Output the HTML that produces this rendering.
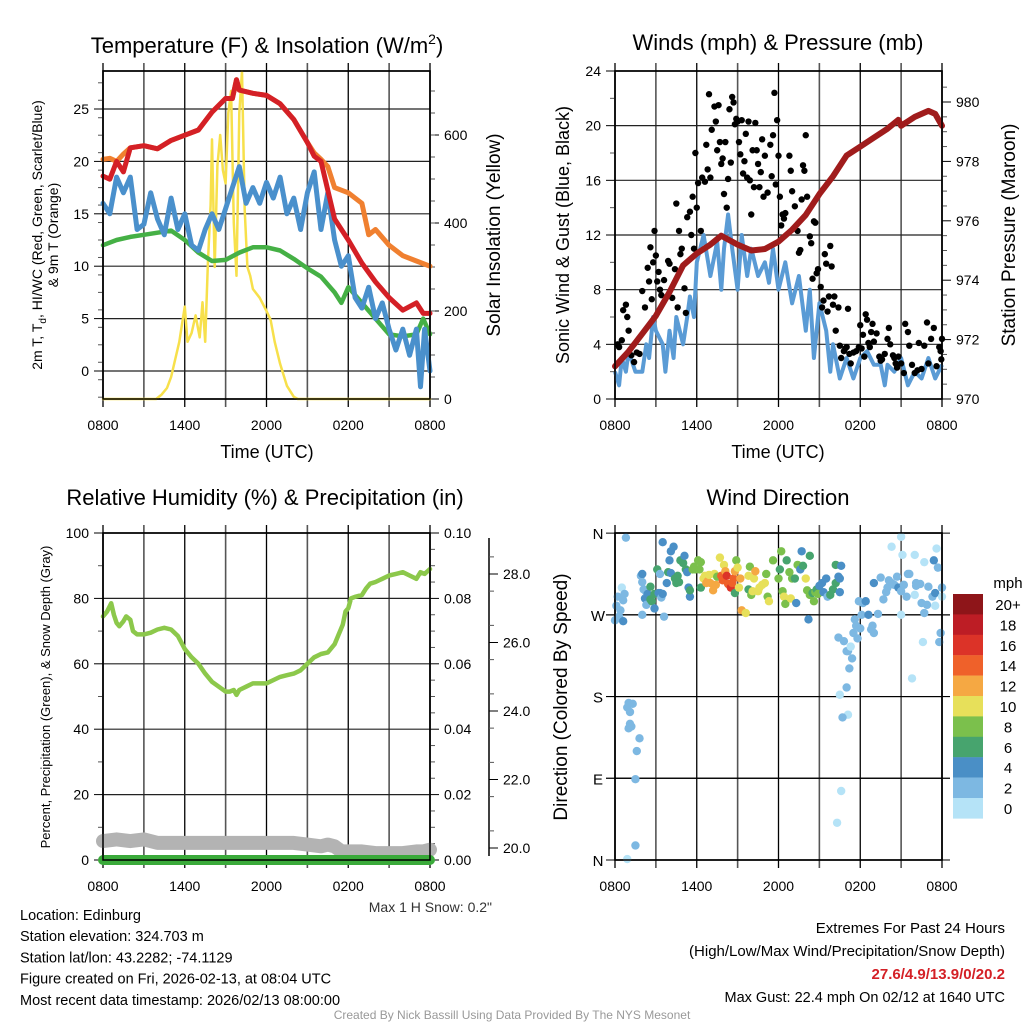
<!DOCTYPE html>
<html><head><meta charset="utf-8"><style>
html,body{margin:0;padding:0;background:#fff;}
svg{display:block;font-family:"Liberation Sans",sans-serif;}
</style></head><body>
<svg id="fig" width="1024" height="1024" viewBox="0 0 1024 1024" xmlns="http://www.w3.org/2000/svg"></svg>
<script>
// ---------- DATA ----------
const tempHours=[0,0.5,1,1.5,2,3,4,5,6,7,8,9,9.5,9.8,10,11,12,13,14,15,15.5,16,17,18,19,20,21,22,23,23.5,24];
const tempValues=[18.6,18.3,20,19,21.3,21.5,21.2,22,22.5,23,24.7,26,26,27.8,26.8,26.5,26.3,25.5,24,21.8,20.5,20,14.5,12.5,10.3,8.5,7,5.8,6.5,5.5,5.5];
const t9Hours=[0,0.5,1,1.5,2,3,4,5,6,7,8,9,9.5,9.8,10,11,12,13,14,15,15.5,16,16.5,17,18,19,19.5,20,21,22,23,24];
const t9Values=[20.2,20.3,20,20.7,21.3,21.5,21.2,22,22.5,23,24.7,26,26,27.8,26.8,26.5,26.3,25.5,24,21.8,20.8,20.2,19.5,17.5,17,16,13,13.5,12,11,10.5,10];
const tdHours=[0,1,2,3,4,5,6,7,8,9,10,11,12,13,14,15,16,17,17.5,18,19,20,21,22,23,23.5,24];
const tdValues=[12,12.5,12.8,13,13.2,13.4,12.5,11.3,10.5,10.6,11.3,11.8,11.8,11.5,10.7,9.8,9,7.5,6.5,8,6.5,5,3.5,3.3,3.5,5,3.5];
const hiHours=[0,0.5,1,1.5,2,2.5,3,3.5,4,4.5,5,5.5,6,6.5,7,7.5,8,8.5,9,9.5,10,10.5,11,11.5,12,12.5,13,13.5,14,14.5,15,15.5,16,16.5,17,17.5,18,18.5,19,19.5,20,20.5,21,21.5,22,22.5,23,23.3,23.6,24];
const hiValues=[16,15,18.5,17,18.5,13.5,14,17,14.5,13,16.5,13.5,15,12,11.5,13.5,15,13.5,15.5,17.5,19.5,16,17.5,16,18,16.5,18.5,15,16.5,13.5,17,19,13.5,17,12.5,10,11,7,6,8,5,6.5,4,2,4,1.5,4,-1.5,4,0];
const solarHours=[0,3.9,4.3,4.7,5,5.3,5.6,5.8,6,6.2,6.5,6.8,7.1,7.3,7.5,7.7,7.9,8,8.2,8.4,8.6,8.8,9,9.2,9.4,9.6,9.8,10,10.2,10.4,10.6,10.8,11,11.5,12,12.3,12.6,13,13.5,14,14.3,24];
const solarValues=[0,0,10,25,50,90,130,170,210,130,150,190,140,220,130,310,440,590,300,530,600,520,490,650,700,400,280,650,745,430,300,280,250,230,200,180,130,80,30,5,0,0];
const presHours=[0,1,2,3,4,5,6,7,7.8,9,10,11,12,13,14,15,16,17,18,19,20,20.8,21,22,23,23.5,24];
const presValues=[971.1,971.6,972.2,972.8,973.6,974.5,974.9,975.2,975.5,975.2,975,975.05,975.3,975.7,976.2,976.9,977.5,978.2,978.5,978.8,979.1,979.4,979.2,979.5,979.7,979.6,979.2];
const windHours=[0,0.3,0.5,0.8,1,1.5,2,2.3,2.5,2.8,3,3.5,3.7,4,4.3,4.5,5,5.3,5.5,5.8,6,6.5,7,7.5,7.8,8,8.3,8.6,9,9.3,9.7,10,10.5,11,11.3,11.6,12,12.5,13,13.5,14,14.3,14.6,15,15.5,15.8,16,16.5,17,17.5,18,18.5,19,19.5,19.8,20,20.5,21,21.5,22,22.5,23,23.5,24];
const windValues=[2,1,3,2,3.5,2,2,4,3,6,5,4,2,5,3,6,4,6,7.5,6,10,12,9,11.5,8,11,13.5,11,8,12,9,11,9,10,8.5,11,8,10,7,9,5,8,3,7,5,2,4,1.5,3,1.5,3,3.5,2.5,2.5,1,2.5,2,3,1,2,1.5,3,1.5,2.5];
const gustHours=[0.2,0.3,0.5,0.6,0.8,0.9,1,1.2,1.4,1.6,1.8,2,2.2,2.4,2.5,2.6,2.7,2.8,2.9,3,3.1,3.2,3.3,3.4,3.6,3.9,4,4.2,4.4,4.5,4.6,4.7,4.8,4.9,5.1,5.2,5.3,5.5,5.6,5.7,5.8,5.9,6,6.1,6.3,6.4,6.6,6.7,6.8,6.9,7,7.1,7.3,7.4,7.5,7.6,7.7,7.8,7.9,8,8.1,8.2,8.3,8.4,8.5,8.6,8.7,8.8,8.9,9,9.1,9.2,9.3,9.4,9.5,9.6,9.7,9.8,9.9,10,10.1,10.2,10.3,10.4,10.5,10.6,10.7,10.8,10.9,11,11.2,11.4,11.5,11.6,11.7,11.8,11.9,12,12.1,12.2,12.3,12.4,12.5,12.8,12.9,13,13.2,13.4,13.5,13.6,13.7,13.8,13.9,14,14.1,14.3,14.4,14.5,14.6,14.7,14.8,14.9,15.1,15.2,15.3,15.4,15.5,15.6,15.7,15.8,15.9,16,16.1,16.2,16.4,16.5,16.6,16.8,16.9,17,17.1,17.2,17.3,17.5,17.7,17.9,18,18.1,18.2,18.3,18.4,18.5,18.6,18.7,18.8,18.9,19,19.2,19.4,19.5,19.6,19.8,20,20.1,20.2,20.4,20.5,20.6,20.7,20.8,21,21.2,21.3,21.5,21.6,21.8,22,22.2,22.3,22.5,22.7,22.9,23,23.2,23.4,23.6,23.8,23.9,23.95,24];
const gustValues=[4,3.8,4.3,6.5,6.9,6,5,3.2,2.7,3.4,3.3,7.9,6.7,9.6,8.6,11.1,7.3,10,12.3,10.5,8.6,9.3,8,7.6,8.7,10.1,9.9,7.4,9.5,14.3,6.7,12.3,10.6,11,8.1,6.3,13.3,13.7,12,14.8,11,18,14,15.8,12.3,16.2,15.9,18.6,16.8,22.3,16.2,19.7,21.4,20.3,18.2,21.5,18.8,17.2,17.6,15,18.8,14,16.1,21.2,17.3,22.1,21.7,20.1,20.5,20.3,18.8,17.9,20.4,16.5,17.4,19.4,16.2,20.3,16,13.5,18.2,15.5,20.2,18.2,17.2,15.5,16.6,19,14.8,17.8,15.1,18.6,16.3,19.3,22.4,15.7,20.4,17.8,14.8,12.7,13.5,13.2,13.6,17.8,16.7,15.2,14.1,12.3,10.7,10.9,14.6,17.1,16.7,19.3,14.8,11.9,11.4,8.8,13,12.9,9.2,9.5,8.2,6.7,7.2,10.6,9.9,6.4,7.5,11.2,9.7,6.9,7.5,5,6.7,3.9,3,3.5,3.7,3.8,6.6,3.3,2.6,3.4,3.5,3.8,5.4,3.7,4.7,3.1,6.2,5.8,4.1,3.8,4.9,5.5,4.2,4.8,3.1,2.8,2.9,3.3,4.4,5.2,4,3.2,3,2.6,2.3,3.1,2.6,1.9,5.5,4.9,3.9,2.5,1.9,2.1,4.1,2.2,3.9,5.6,2.6,4.4,5.2,2.4,3.8,3.5,2.9,4.4];
const rhHours=[0,0.3,0.6,0.8,1,1.2,1.5,1.7,2,2.2,2.5,3,3.5,4,4.5,5,5.5,6,6.5,7,7.5,8,8.5,9,9.3,9.6,9.8,10,10.5,11,11.5,12,12.5,13,13.5,14,14.5,15,15.5,16,16.5,17,17.3,17.6,17.8,18,18.2,18.5,19,19.3,19.6,20,20.5,21,21.5,22,22.5,23,23.3,23.6,24];
const rhValues=[74.5,76,78.5,75,72.5,71.5,73,74.5,73.5,70,69,69,69.5,70.5,71,70.5,68.5,64.5,62,60,57,54.5,53,51.5,51.5,52,50.5,52,53,54,54,54,55,56,56.5,57,58,60,62,63,63.5,66,69,72,76,77,80,80.5,81,83,84.5,85,86,87,87.5,88,87,86,88,87.5,89];
const snowHours=[0,1,2,3,4,6,8,10,12,14,15,16,16.5,17,17.5,18,19,20,21,22,23,23.5,24];
const snowValues=[20.2,20.25,20.2,20.25,20.15,20.15,20.15,20.15,20.15,20.15,20.1,20.05,20.1,20.05,19.9,19.9,19.9,19.85,19.85,19.85,19.9,19.9,19.95];
const precipHours=[0,24];
const precipValues=[0,0];
const dirHours=[0,0.1,0.2,0.3,0.4,0.5,0.6,0.6,0.7,0.8,0.9,1.0,1.1,1.0,1.1,1.3,1.2,1.6,1.8,1.5,1.5,0.9,1.9,2,2.1,2.2,2.0,2.3,2.4,2.3,2.0,2.6,2.6,2.7,2.9,2.9,3.1,3.2,3.3,3.4,3.5,3.6,3.3,3.5,3.8,3.9,4.0,4.1,4.3,4.1,4.4,4.5,4.6,4.7,4.8,5.0,5.1,5.2,5.3,5.4,5.5,5.5,5.7,5.8,5.9,6.1,6.2,6.3,6.3,6.5,6.6,6.7,6.8,6.9,7.0,7.2,7.3,7.4,7.5,7.7,7.8,7.9,8.0,8.1,8.2,8.3,8.5,8.6,8.7,8.8,8.8,8.9,9.0,9.1,9.2,9.3,9.6,9.8,9.8,9.9,10.0,10.1,10.2,10.3,10.5,10.6,10.8,11.0,11.1,11.2,11.3,11.6,12.2,12.0,12.1,12.3,12.4,12.5,12.6,12.8,12.9,13.0,13.2,13.3,13.4,13.6,13.7,13.8,14.0,14.3,14.1,14.3,14.5,14.6,14.7,14.8,14.9,14.2,15.2,15.5,15.3,15.0,15.6,15.8,16.0,16.2,16.4,16.5,16.5,16.2,16.6,16.4,16.8,17.0,17.1,17.2,17.0,17.1,17.3,17.4,17.5,17.6,17.7,17.8,17.9,18.0,18.1,18.2,18.4,18.6,18.9,19.0,18.8,19.3,19.0,19.5,19.7,19.9,20.0,20.1,20.3,20.5,20.7,20.8,21.0,21.2,21.4,21.5,21.6,21.8,22.0,22.1,22.4,22.5,22.7,22.9,23.0,23.3,23.5,23.7,23.4,23.6,24.0,24.0,23.9,23.8,23.5,22.6,22.1,21.0,20.3,21.0,21.1,22.0,22.7,16.6,16.3,16.5,16.7];
const dirValues=[264,280,290,268,275,300,286,263,293,355,168,173,163,145,150,172,147,120,134,89,16,1,313,315,298,288,306,295,293,281,270,287,301,285,277,293,320,294,294,289,293,268,315,350,305,317,330,340,345,316,310,305,313,306,330,327,335,320,317,300,290,297,320,323,320,330,320,300,328,310,313,305,307,314,305,297,315,303,312,333,313,308,325,318,313,304,300,305,310,294,318,330,322,300,310,275,272,298,313,323,292,296,310,318,296,300,303,305,315,290,285,330,340,310,320,296,290,282,330,317,288,310,310,283,325,320,340,324,310,335,297,292,294,285,295,298,293,265,305,310,295,302,290,292,298,305,312,310,295,325,324,245,241,230,230,211,190,160,235,222,250,265,258,244,285,255,270,283,285,270,258,250,254,271,305,311,287,295,300,308,305,303,312,300,296,303,290,315,315,200,292,305,304,283,272,281,301,290,294,322,330,343,290,300,250,240,280,240,302,270,345,356,336,336,328,76,41,182,157];
const dirSpeeds=[2,2,2,2,3,0.5,2,4,3,2,2,2,3,2,2,3,2,2,2,2,2,1,3,4,3,4,2,3,4,2,2,6,6,6,4,6,6,4,4,2,4,2,3,4,4,6,4,4,4,4,6,6,6,6,6,6,4,6,4,4,4,6,8,8,8,8,8,6,8,10,10,12,12,10,12,12,10,12,8,10,14,14,10,12,16,14,16,14,14,6,12,8,10,10,12,12,10,6,10,8,8,10,10,12,10,10,10,10,8,8,10,8,8,8,6,8,10,8,6,8,10,8,6,4,8,4,4,6,10,6,8,8,6,8,8,6,8,4,4,4,4,4,2,6,6,6,4,4,4,6,4,3,3,2,3,2,2,1,1,2,2,2,3,3,2,3,3,3,4,4,3,2,3,3,4,2,2,2,2,2,2,2,2,4,3,3,2,3,2,1,1,2,3,2,3,3,3,2,4,3,4,1,1,2,3,2,1,1,3,1,1,0.5,0.5,0.5,1,1,1,1,3,1];
const legendLabels=["20+","18","16","14","12","10","8","6","4","2","0"];
const speedColors=["#b5e3f7","#7db8e2","#4a8fc6","#47a46e","#7bc04c","#e7e05a","#f5a843","#ef612a","#dc3328","#bd1d25","#8e1519"];
const timeLabels=["0800","1400","2000","0200","0800"];

// ---------- HELPERS ----------
const NS="http://www.w3.org/2000/svg";
const svg=document.getElementById('fig');
function mk(tag,attrs,parent){const e=document.createElementNS(NS,tag);for(const k in attrs)e.setAttribute(k,attrs[k]);(parent||svg).appendChild(e);return e;}
function txt(s,x,y,size,anchor,parent,extra){const e=mk('text',Object.assign({x:x,y:y,'font-size':size,'text-anchor':anchor||'middle',fill:'#000'},extra||{}),parent);e.textContent=s;return e;}
function pathD(xs,ys,sx,sy){let d='';for(let i=0;i<xs.length;i++){d+=(i?'L':'M')+sx(xs[i]).toFixed(1)+' '+sy(ys[i]).toFixed(1);}return d;}
function grp(name){const g=mk('g',{});return g;}

function panelFrame(x0,x1,y0,y1,hLines,g){
  for(let i=0;i<=8;i++){const x=x0+i*(x1-x0)/8;
    mk('line',{x1:x,y1:y0-8,x2:x,y2:y1+8,stroke:(i%2===0?'#000':'#555'),'stroke-width':(i%2===0?1.3:1.6)},g);}
  hLines.forEach(y=>mk('line',{x1:x0,y1:y,x2:x1,y2:y,stroke:'#222','stroke-width':1.2},g));
  mk('rect',{x:x0,y:y0,width:x1-x0,height:y1-y0,fill:'none',stroke:'#000','stroke-width':1.5},g);
  for(let i=0;i<5;i++){const l=txt(timeLabels[i],x0+i*(x1-x0)/4,y1+31,14,'middle',g);}
}
function leftTicks(x,vals,sy,minor,g,fmt){
  vals.forEach(v=>{mk('line',{x1:x-9,y1:sy(v),x2:x,y2:sy(v),stroke:'#000','stroke-width':1},g);
    const l=txt(fmt?fmt(v):String(v),x-14,sy(v)+5,14,'end',g);});
  minor.forEach(v=>mk('line',{x1:x-5,y1:sy(v),x2:x,y2:sy(v),stroke:'#555','stroke-width':1},g));
}
function rightTicks(x,vals,sy,minor,g,fmt){
  vals.forEach(v=>{mk('line',{x1:x,y1:sy(v),x2:x+9,y2:sy(v),stroke:'#000','stroke-width':1},g);
    const l=txt(fmt?fmt(v):String(v),x+14,sy(v)+5,14,'start',g);});
  minor.forEach(v=>mk('line',{x1:x,y1:sy(v),x2:x+5,y2:sy(v),stroke:'#555','stroke-width':1},g));
}
function rng(a,b,s){const r=[];for(let v=a;v<=b+1e-9;v+=s)r.push(+v.toFixed(4));return r;}

// ---------- PANEL 1: Temperature ----------
(function(){
  const g=grp('temperature-panel');
  const X0=103,X1=430,Y0=71,Y1=399;
  const sx=h=>X0+h*(X1-X0)/24;
  const sy=v=>371-v*10.48;
  const sr=w=>399-w*0.44;
  const t=txt('',267,53,22,'middle',g);
  t.appendChild(document.createTextNode('Temperature (F) & Insolation (W/m'));
  const sp=document.createElementNS(NS,'tspan');sp.setAttribute('dy','-9');sp.setAttribute('font-size','14');sp.textContent='2';t.appendChild(sp);
  const sp2=document.createElementNS(NS,'tspan');sp2.setAttribute('dy','9');sp2.textContent=')';t.appendChild(sp2);
  panelFrame(X0,X1,Y0,Y1,[0,5,10,15,20,25].map(sy),g);
  leftTicks(X0,[0,5,10,15,20,25],sy,rng(-2.5,27.5,5/3).filter(v=>v>-2.7&&v<28.6),g);
  rightTicks(X1,[0,200,400,600],sr,rng(50,700,50),g);
  const series=[[solarHours,solarValues,sr,'#f7e04b',2.5,'solar-line'],[tdHours,tdValues,sy,'#45b045',4.5,'dewpoint-line'],[hiHours,hiValues,sy,'#4a90cc',5,'heat-index-line'],[t9Hours,t9Values,sy,'#f08030',5,'temp-9m-line'],[tempHours,tempValues,sy,'#d42026',5,'temp-2m-line']];
  series.forEach(s=>{const p=mk('path',{d:pathD(s[0],s[1],sx,s[2]),fill:'none',stroke:s[3],'stroke-width':s[4],'stroke-linejoin':'round','stroke-linecap':'round'},g);
    });
  mk('rect',{x:X0,y:Y0,width:X1-X0,height:Y1-Y0,fill:'none',stroke:'#000','stroke-width':1.5},g);
  const a=txt('2m T, T',0,0,14,'middle',g,{transform:'translate(42,235) rotate(-90)'});
  const sub=document.createElementNS(NS,'tspan');sub.setAttribute('font-size','10');sub.setAttribute('dy','4');sub.textContent='d';a.appendChild(sub);
  const rest=document.createElementNS(NS,'tspan');rest.setAttribute('dy','-4');rest.textContent=', HI/WC (Red, Green, Scarlet/Blue)';a.appendChild(rest);
  
  const b=txt('& 9m T (Orange)',0,0,14,'middle',g,{transform:'translate(58,235) rotate(-90)'});
  const c=txt('Solar Insolation (Yellow)',0,0,19,'middle',g,{transform:'translate(500,235) rotate(-90)'});
  const d=txt('Time (UTC)',267,458,18,'middle',g);
})();

// ---------- PANEL 2: Winds ----------
(function(){
  const g=grp('winds-panel');
  const X0=615,X1=942,Y0=71,Y1=399;
  const sx=h=>X0+h*(X1-X0)/24;
  const sy=v=>399-v*13.667;
  const sp=p=>399-(p-970)*29.7;
  const t=txt('Winds (mph) & Pressure (mb)',778,50,22,'middle',g);
  panelFrame(X0,X1,Y0,Y1,[4,8,12,16,20].map(sy),g);
  leftTicks(X0,[0,4,8,12,16,20,24],sy,rng(2,22,4),g);
  rightTicks(X1,[970,972,974,976,978,980],sp,rng(970.5,980.5,0.5).filter(v=>Math.abs(v-Math.round(v/2)*2)>0.01),g);
  const w=mk('path',{d:pathD(windHours,windValues,sx,sy),fill:'none',stroke:'#5a9bd5','stroke-width':4,'stroke-linejoin':'round'},g);
  
  gustHours.forEach((h,i)=>{const c=mk('circle',{cx:sx(h),cy:sy(gustValues[i]),r:3.2,fill:'#000'},g);
    });
  const p=mk('path',{d:pathD(presHours,presValues,sx,sp),fill:'none',stroke:'#a01c1c','stroke-width':6,'stroke-linejoin':'round','stroke-linecap':'round'},g);
  
  mk('rect',{x:X0,y:Y0,width:X1-X0,height:Y1-Y0,fill:'none',stroke:'#000','stroke-width':1.5},g);
  const a=txt('Sonic Wind & Gust (Blue, Black)',0,0,18,'middle',g,{transform:'translate(569,235) rotate(-90)'});
  const b=txt('Station Pressure (Maroon)',0,0,19,'middle',g,{transform:'translate(1015,235) rotate(-90)'});
  const d=txt('Time (UTC)',778,458,18,'middle',g);
})();

// ---------- PANEL 3: RH ----------
(function(){
  const g=grp('humidity-panel');
  const X0=103,X1=430,Y0=533,Y1=860;
  const sx=h=>X0+h*(X1-X0)/24;
  const sy=v=>860-v*3.27;
  const sq=v=>860-v*3270;
  const ss=s=>848-(s-20)*34.25;
  const t=txt('Relative Humidity (%) & Precipitation (in)',265,505,22,'middle',g);
  panelFrame(X0,X1,Y0,Y1,[20,40,60,80].map(sy),g);
  leftTicks(X0,[0,20,40,60,80,100],sy,rng(10,90,20),g);
  rightTicks(X1,[0,0.02,0.04,0.06,0.08,0.1],sq,rng(0.005,0.095,0.005).filter(v=>Math.abs(v*50-Math.round(v*50))>0.01),g,v=>v.toFixed(2));
  mk('line',{x1:489,y1:538,x2:489,y2:856,stroke:'#000','stroke-width':1.5},g);
  rightTicks(489,[20,22,24,26,28],ss,rng(20.5,28.5,1).filter(v=>v<29.2),g,v=>v.toFixed(1));
  const sn=mk('path',{d:pathD(snowHours,snowValues,sx,ss),fill:'none',stroke:'#b3b3b3','stroke-width':14,'stroke-linejoin':'round','stroke-linecap':'round'},g);
  
  const pr=mk('path',{d:pathD(precipHours,precipValues,sx,sq),fill:'none',stroke:'#3aaa3a','stroke-width':10,'stroke-linecap':'round'},g);
  
  const rh=mk('path',{d:pathD(rhHours,rhValues,sx,sy),fill:'none',stroke:'#8cc84b','stroke-width':4.5,'stroke-linejoin':'round','stroke-linecap':'round'},g);
  
  mk('rect',{x:X0,y:Y0,width:X1-X0,height:Y1-Y0,fill:'none',stroke:'#000','stroke-width':1.5},g);
  const a=txt('Percent, Precipitation (Green), & Snow Depth (Gray)',0,0,13,'middle',g,{transform:'translate(50,697) rotate(-90)'});
  const s=txt('Max 1 H Snow: 0.2"',492,912,14,'end',g,{fill:'#333'});
})();

// ---------- PANEL 4: Wind Direction ----------
(function(){
  const g=grp('wind-direction-panel');
  const X0=615,X1=942,Y0=533,Y1=860;
  const sx=h=>X0+h*(X1-X0)/24;
  const sy=d=>860-d*0.908;
  const t=txt('Wind Direction',778,505,22,'middle',g);
  panelFrame(X0,X1,Y0,Y1,[90,180,270].map(sy),g);
  ['N','E','S','W','N'].forEach((l,i)=>{mk('line',{x1:X0-9,y1:sy(i*90),x2:X1+8,y2:sy(i*90),stroke:'#000','stroke-width':i%4===0?1:1.2},g);
    const e=txt(l,598,sy(i*90)+6,15,'middle',g);});
  function col(s){return speedColors[Math.min(10,Math.floor(s/2))];}
  dirHours.forEach((h,i)=>{const c=mk('circle',{cx:sx(h),cy:sy(dirValues[i]),r:4.2,fill:col(dirSpeeds[i])},g);
    });
  mk('rect',{x:X0,y:Y0,width:X1-X0,height:Y1-Y0,fill:'none',stroke:'#000','stroke-width':1.5},g);
  const a=txt('Direction (Colored By Speed)',0,0,19,'middle',g,{transform:'translate(567,697) rotate(-90)'});
  const lg=grp('speed-legend');
  const m=txt('mph',1008,588,15,'middle',lg);
  legendLabels.forEach((l,i)=>{const y=594+i*20.4;
    const r=mk('rect',{x:953,y:y,width:30,height:20.6,fill:speedColors[10-i]},lg);
    const e=txt(l,1008,y+16,15,'middle',lg);});
})();

// ---------- FOOTER ----------
(function(){
  const g=grp('footer');
  const left=["Location: Edinburg","Station elevation: 324.703 m","Station lat/lon: 43.2282; -74.1129","Figure created on Fri, 2026-02-13, at 08:04 UTC","Most recent data timestamp: 2026/02/13 08:00:00"];
  left.forEach((s,i)=>{const e=txt(s,20,920+i*21.2,14.5,'start',g);});
  const r1=txt('Extremes For Past 24 Hours',1005,933,15,'end',g);
  const r2=txt('(High/Low/Max Wind/Precipitation/Snow Depth)',1005,956,15,'end',g);
  const r3=txt('27.6/4.9/13.9/0/20.2',1005,979,15,'end',g,{fill:'#d42026','font-weight':'bold'});
  const r4=txt('Max Gust: 22.4 mph On 02/12 at 1640 UTC',1005,1002,14.5,'end',g);
  const c=txt('Created By Nick Bassill Using Data Provided By The NYS Mesonet',512,1019,12,'middle',g,{fill:'#999'});
})();
</script>
</body></html>
